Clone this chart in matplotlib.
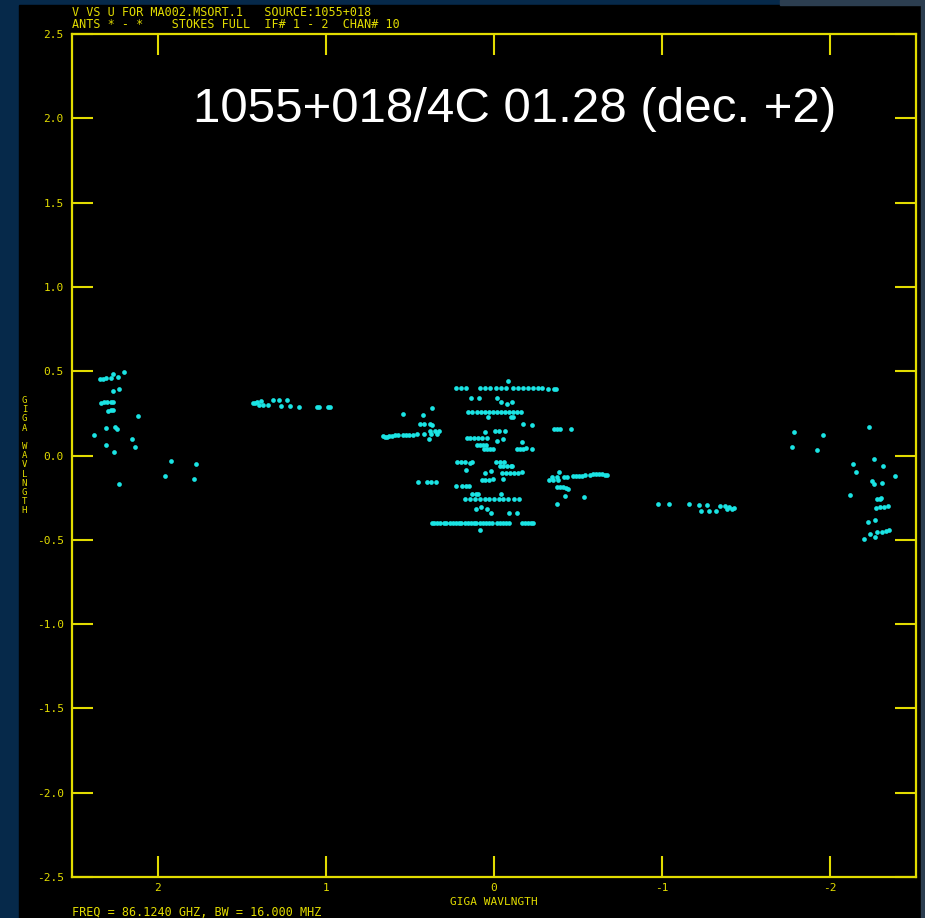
import matplotlib
matplotlib.use("Agg")
import matplotlib.pyplot as plt
from matplotlib.patches import Rectangle

# uv coverage, giga-wavelengths (u runs right-to-left)
u_west = [2.342, 2.325, 2.307, 2.265, 2.277, 2.235, 2.200, 2.265, 2.229,
          2.336, 2.320, 2.300, 2.280, 2.265, 2.295, 2.280, 2.265, 2.116,
          2.307, 2.253, 2.240, 2.378, 2.152, 2.307, 2.134, 2.259, 2.229,
          1.920, 1.956, 1.772, 1.784]
v_west = [0.454, 0.454, 0.457, 0.483, 0.460, 0.466, 0.495, 0.383, 0.394,
          0.314, 0.317, 0.317, 0.320, 0.320, 0.264, 0.268, 0.270, 0.234,
          0.163, 0.169, 0.160, 0.122, 0.098, 0.062, 0.050, 0.021, -0.169,
          -0.033, -0.122, -0.050, -0.139]

u_midwest = [1.433, 1.420, 1.409, 1.385, 1.397, 1.373, 1.344, 1.314, 1.278,
             1.231, 1.266, 1.213, 1.159, 1.050, 1.040, 0.985, 0.975]
v_midwest = [0.311, 0.314, 0.317, 0.323, 0.300, 0.300, 0.300, 0.329, 0.329,
             0.329, 0.294, 0.294, 0.288, 0.288, 0.288, 0.288, 0.288]

u_centre = [
    # v = +0.40 row
    0.226, 0.196, 0.166, 0.083, 0.054, 0.024, -0.012, -0.042, -0.071,
    -0.113, -0.143, -0.172, -0.202, -0.232, -0.262, -0.285, -0.321, -0.357,
    -0.369, -0.083,
    0.137, 0.089, -0.018, -0.042, -0.077, -0.107,
    # v = +0.26 row
    0.155, 0.131, 0.101, 0.077, 0.054, 0.030, 0.006, -0.018, -0.042, -0.065,
    -0.089, -0.113, -0.137, -0.161,
    0.036, -0.101, -0.113, 0.541, 0.422, 0.369, 0.440, 0.416, 0.380, 0.369,
    -0.172, -0.226, -0.357, -0.375, -0.392, -0.458,
    # v ~ +0.1 band
    0.660, 0.648, 0.636, 0.624, 0.606, 0.589, 0.571, 0.541, 0.523, 0.505,
    0.482, 0.458, 0.416, 0.375, 0.339, 0.380, 0.351, 0.327, 0.386,
    0.161, 0.143, 0.119, 0.095, 0.071, 0.042, 0.054, -0.006, -0.030, -0.065,
    -0.018, -0.054, 0.101, 0.083, 0.065, 0.048, 0.059, 0.042, 0.024, 0.006,
    -0.166, -0.137, -0.155, -0.172, -0.190, -0.226,
    # v ~ -0.1 band
    0.220, 0.196, 0.172, 0.143, 0.131, -0.012, -0.036, -0.059,
    -0.036, -0.054, -0.077, -0.101, -0.107, 0.166, 0.054, 0.018,
    -0.048, -0.071, -0.095, -0.119, -0.143, -0.166,
    0.071, 0.054, 0.030, 0.006, -0.054, 0.452, 0.398, 0.375, 0.345,
    0.226, 0.190, 0.166, 0.149, 0.131, 0.107, 0.095, -0.042,
    # v = -0.26 row
    0.172, 0.143, 0.113, 0.083, 0.054, 0.030, 0.000, -0.030, -0.054, -0.083,
    -0.119, -0.149,
    0.107, 0.077, 0.042, 0.018, -0.089, -0.137,
    # v = -0.40 row
    0.369, 0.357, 0.339, 0.321, 0.297, 0.285, 0.262, 0.244, 0.226, 0.208,
    0.196, 0.172, 0.155, 0.137, 0.119, 0.107, 0.083, 0.065, 0.048, 0.030,
    0.012, -0.018, -0.036, -0.054, -0.071, -0.089, -0.166, -0.184, -0.202,
    -0.220, -0.232, 0.083,
]
v_centre = [
    0.400, 0.400, 0.400, 0.400, 0.400, 0.400, 0.400, 0.400, 0.400,
    0.400, 0.400, 0.400, 0.400, 0.400, 0.400, 0.400, 0.397, 0.394,
    0.394, 0.442,
    0.341, 0.341, 0.341, 0.317, 0.305, 0.317,
    0.258, 0.258, 0.258, 0.258, 0.258, 0.258, 0.258, 0.258, 0.258, 0.258,
    0.258, 0.258, 0.258, 0.258,
    0.228, 0.228, 0.228, 0.246, 0.240, 0.282, 0.187, 0.187, 0.184, 0.181,
    0.187, 0.181, 0.157, 0.157, 0.157, 0.157,
    0.116, 0.110, 0.110, 0.116, 0.116, 0.122, 0.122, 0.122, 0.122, 0.122,
    0.122, 0.128, 0.128, 0.128, 0.128, 0.145, 0.145, 0.145, 0.098,
    0.104, 0.104, 0.104, 0.104, 0.104, 0.104, 0.139, 0.145, 0.145, 0.145,
    0.086, 0.098, 0.062, 0.062, 0.062, 0.062, 0.039, 0.039, 0.039, 0.039,
    0.080, 0.039, 0.039, 0.039, 0.045, 0.039,
    -0.039, -0.039, -0.039, -0.045, -0.039, -0.039, -0.039, -0.039,
    -0.062, -0.062, -0.062, -0.062, -0.062, -0.086, -0.104, -0.092,
    -0.104, -0.104, -0.104, -0.104, -0.104, -0.098,
    -0.145, -0.145, -0.145, -0.139, -0.139, -0.157, -0.157, -0.157, -0.157,
    -0.181, -0.181, -0.181, -0.181, -0.228, -0.228, -0.228, -0.228,
    -0.258, -0.258, -0.258, -0.258, -0.258, -0.258, -0.258, -0.258, -0.258,
    -0.258, -0.258, -0.258,
    -0.317, -0.305, -0.317, -0.341, -0.341, -0.341,
    -0.400, -0.400, -0.400, -0.400, -0.400, -0.400, -0.400, -0.400, -0.400,
    -0.400, -0.400, -0.400, -0.400, -0.400, -0.400, -0.400, -0.400, -0.400,
    -0.400, -0.400, -0.400, -0.400, -0.400, -0.400, -0.400, -0.400, -0.400,
    -0.400, -0.400, -0.400, -0.400, -0.442,
]

u_mideast = [-0.386, -0.345, -0.375, -0.416, -0.434, -0.327, -0.351, -0.380,
             -0.470, -0.488, -0.505, -0.523, -0.541,
             -0.571, -0.589, -0.606, -0.624, -0.642, -0.660, -0.672,
             -0.375, -0.392, -0.410, -0.428, -0.440, -0.422, -0.535, -0.375,
             -0.975, -1.040, -1.159, -1.219, -1.266, -1.231, -1.278, -1.320,
             -1.344, -1.373, -1.397, -1.427, -1.385, -1.415]
v_mideast = [-0.098, -0.128, -0.128, -0.128, -0.128, -0.145, -0.145, -0.145,
             -0.122, -0.122, -0.122, -0.122, -0.116,
             -0.116, -0.110, -0.110, -0.110, -0.110, -0.116, -0.116,
             -0.187, -0.187, -0.187, -0.193, -0.199, -0.240, -0.246, -0.288,
             -0.288, -0.288, -0.288, -0.294, -0.294, -0.329, -0.329, -0.329,
             -0.300, -0.300, -0.305, -0.311, -0.317, -0.317]

u_east = [-1.784, -1.956, -1.772, -1.920, -2.229, -2.134, -2.152, -2.259,
          -2.313, -2.384, -2.247, -2.259, -2.307, -2.117, -2.277, -2.295,
          -2.301, -2.271, -2.295, -2.319, -2.342, -2.223, -2.265, -2.235,
          -2.277, -2.307, -2.330, -2.348, -2.265, -2.200]
v_east = [0.139, 0.122, 0.050, 0.033, 0.169, -0.050, -0.098, -0.021,
          -0.062, -0.122, -0.151, -0.169, -0.163, -0.234, -0.258, -0.258,
          -0.252, -0.311, -0.308, -0.305, -0.300, -0.394, -0.383, -0.466,
          -0.454, -0.454, -0.448, -0.442, -0.483, -0.495]

yticks = [2.5, 2.0, 1.5, 1.0, 0.5, 0.0, -0.5, -1.0, -1.5, -2.0, -2.5]
ytick_labels = ["2.5", "2.0", "1.5", "1.0", "0.5", "0.0", "-0.5", "-1.0",
                "-1.5", "-2.0", "-2.5"]
xticks = [2, 1, 0, -1, -2]
xtick_labels = ["2", "1", "0", "-1", "-2"]

W, H = 925, 918
YEL = "#e2dc00"
CYAN = "#1ae4e4"
MONO = "DejaVu Sans Mono"

fig = plt.figure(figsize=(W / 100, H / 100), dpi=100)
fig.patch.set_facecolor("#06294a")
# black plot page, grey edge strips
fig.add_artist(Rectangle((19 / W, 0), (921 - 19) / W, 1 - 5 / H,
                         transform=fig.transFigure, color="black", zorder=0))
fig.add_artist(Rectangle((921 / W, 0), 4 / W, 1, transform=fig.transFigure,
                         color="#2c3e50", zorder=0))
fig.add_artist(Rectangle((780 / W, 1 - 5 / H), 145 / W, 5 / H,
                         transform=fig.transFigure, color="#2c3e50", zorder=0))

ax = fig.add_axes([72 / W, 1 - 877 / H, (916 - 72) / W, (877 - 34) / H])
ax.set_facecolor("black")

for uu, vv in [(u_west, v_west), (u_midwest, v_midwest), (u_centre, v_centre),
               (u_mideast, v_mideast), (u_east, v_east)]:
    ax.plot(uu, vv, linestyle="none", marker="o", markersize=3.4,
            markeredgewidth=0, color=CYAN)

ax.set_xlim(2.51, -2.51)
ax.set_ylim(-2.5, 2.5)
ax.set_xticks(xticks)
ax.set_xticklabels(xtick_labels)
ax.set_yticks(yticks)
ax.set_yticklabels(ytick_labels)
ax.tick_params(direction="in", length=15, width=1.5, color=YEL,
               labelcolor=YEL, labelsize=8, top=True, right=True)
ax.tick_params(axis="x", pad=4)
ax.tick_params(axis="y", pad=6)
for lbl in ax.get_xticklabels() + ax.get_yticklabels():
    lbl.set_family(MONO)
for side in ax.spines.values():
    side.set_color(YEL)
    side.set_linewidth(1.6)

# header / footer lines
fig.text(72 / W, 1 - 12 / H, "V VS U FOR MA002.MSORT.1   SOURCE:1055+018",
         family=MONO, size=8.5, color=YEL, va="center")
fig.text(72 / W, 1 - 25 / H,
         "ANTS * - *    STOKES FULL  IF# 1 - 2  CHAN# 10",
         family=MONO, size=8.5, color=YEL, va="center")
fig.text(72 / W, 1 - 912 / H, "FREQ = 86.1240 GHZ, BW = 16.000 MHZ",
         family=MONO, size=8.5, color=YEL, va="center")
fig.text(494 / W, 1 - 902 / H, "GIGA WAVLNGTH", family=MONO, size=8,
         color=YEL, ha="center", va="center")

# stacked vertical axis label
for i, ch in enumerate("GIGA WAVLNGTH"):
    fig.text(24.5 / W, 1 - (400.5 + i * 9.2) / H, ch, family=MONO, size=6.5,
             color=YEL, ha="center", va="center")

fig.text(515 / W, 1 - 110 / H, "1055+018/4C 01.28 (dec. +2)",
         family="Liberation Sans", size=35.5, color="white",
         ha="center", va="center")

fig.savefig("out.png", dpi=100, facecolor=fig.get_facecolor())
